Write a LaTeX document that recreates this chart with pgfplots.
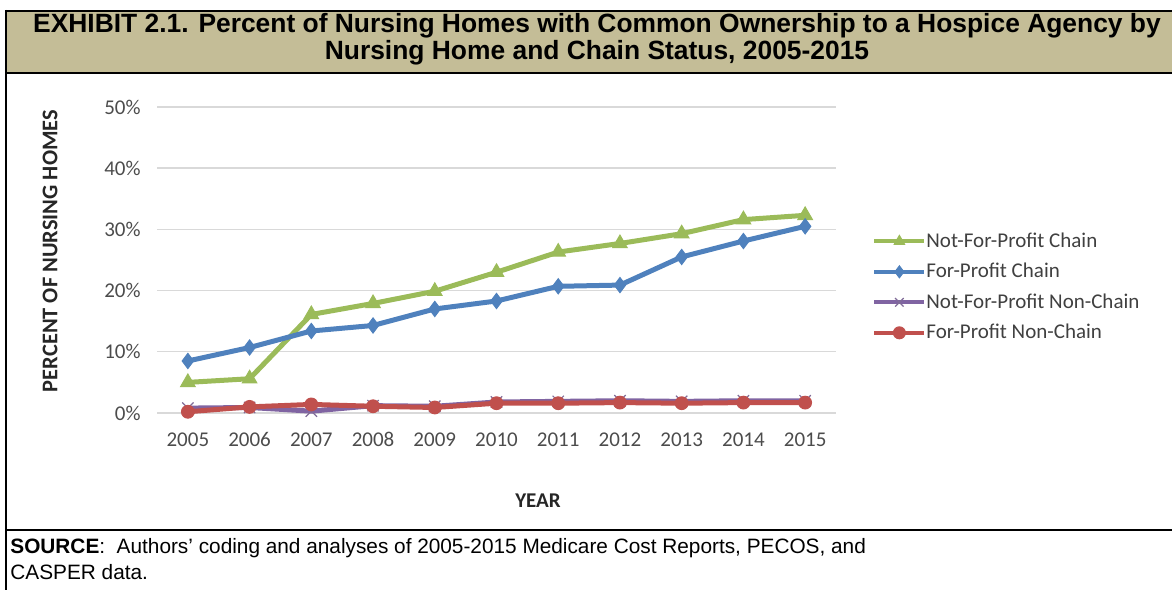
\documentclass[border=0pt]{standalone}
\usepackage{fontspec}
\setmainfont{Liberation Sans}
\newfontfamily\carlito{Carlito}
\usepackage{pgfplots}
\pgfplotsset{compat=1.18}
\definecolor{cgreen}{HTML}{9BBB59}
\definecolor{cblue}{HTML}{4F81BD}
\definecolor{cpurple}{HTML}{8064A2}
\definecolor{cred}{HTML}{C0504D}
\definecolor{ctan}{HTML}{C4BD97}
\definecolor{cgrid}{HTML}{D9D9D9}
\begin{document}
\begin{tikzpicture}
\useasboundingbox (0,0) rectangle (586pt,294.5pt);
% title band
\fill[ctan] (3pt,258pt) rectangle (600pt,289pt);
\draw[line width=1.3pt] (3pt,289pt) -- (600pt,289pt);
\draw[line width=1.3pt] (3pt,258pt) -- (600pt,258pt);
\draw[line width=1.3pt] (3pt,289.6pt) -- (3pt,-2pt);
\draw[line width=1.3pt] (3pt,29.5pt) -- (600pt,29.5pt);
\node[font=\bfseries\fontsize{13.2}{14}\selectfont, anchor=base] at (298.5pt,278.3pt) {EXHIBIT 2.1. Percent of Nursing Homes with Common Ownership to a Hospice Agency by};
\node[font=\bfseries\fontsize{13.2}{14}\selectfont, anchor=base] at (298.5pt,264.8pt) {Nursing Home and Chain Status, 2005-2015};
% source
\node[font=\fontsize{10.4}{12}\selectfont, anchor=base west, inner sep=0pt] at (5pt,17.8pt) {\textbf{SOURCE}:\ \ Authors' coding and analyses of 2005-2015 Medicare Cost Reports, PECOS, and};
\node[font=\fontsize{10.4}{12}\selectfont, anchor=base west, inner sep=0pt] at (5pt,4.8pt) {CASPER data.};
% axis titles
\node[rotate=90, font=\carlito\bfseries\fontsize{11.2}{12}\selectfont, text=black!85] at (25pt,169pt) {PERCENT OF NURSING HOMES};
\node[font=\carlito\bfseries\fontsize{10.5}{12}\selectfont, text=black!85] at (269pt,44pt) {YEAR};
\begin{axis}[
  at={(78.5pt,88pt)}, anchor=south west,
  scale only axis, width=339.5pt, height=153pt,
  xmin=2004.5, xmax=2015.5, ymin=0, ymax=50,
  xtick={2005,2006,...,2015}, ytick={0,10,...,50},
  axis line style={draw=none},
  major tick length=0pt,
  ymajorgrids, grid style={cgrid, line width=0.7pt},
  /pgf/number format/assume math mode=true,
  x tick label style={/pgf/number format/1000 sep={}, anchor=center, inner sep=0pt, text height=6.8pt, text depth=0pt, yshift=-13.5pt},
  y tick label style={anchor=east, inner sep=0pt, xshift=-8pt},
  yticklabel={\pgfmathprintnumber{\tick}\%},
  tick label style={font=\carlito\fontsize{10.5}{12}\selectfont, text=black!70},
  legend style={at={(1.053,0.595)}, anchor=north west, draw=none, fill=none,
    font=\carlito\fontsize{10.5}{12}\selectfont, text=black!75,
    inner sep=0pt, row sep=5.25pt,
    nodes={inner sep=0pt, text height=8pt, text depth=2pt, anchor=west}},
  legend cell align=left,
  legend image code/.code={\draw[mark repeat=2,mark phase=2,#1,line width=2pt,mark size=3pt] plot coordinates {(0pt,0pt) (12.5pt,0pt) (25pt,0pt)};\hspace{27pt}},
  clip=false,
]
\addplot[cgreen, line width=2.5pt, mark=triangle*, mark size=4.2pt, mark options={solid, line width=0.5pt}] coordinates {
(2005,5.0) (2006,5.6) (2007,16.1) (2008,17.9) (2009,19.9) (2010,23.0) (2011,26.3) (2012,27.7) (2013,29.3) (2014,31.6) (2015,32.3)};
\addlegendentry{Not-For-Profit Chain}
\addplot[cblue, line width=2.5pt, mark=diamond*, mark size=3.8pt, mark options={solid, line width=0.5pt}] coordinates {
(2005,8.5) (2006,10.7) (2007,13.4) (2008,14.3) (2009,17.0) (2010,18.3) (2011,20.7) (2012,20.9) (2013,25.5) (2014,28.1) (2015,30.5)};
\addlegendentry{For-Profit Chain}
\addplot[cpurple, line width=2.5pt, mark=x, mark size=4pt, mark options={solid, line width=0.6pt, draw=cpurple!70!gray}] coordinates {
(2005,0.8) (2006,0.9) (2007,0.3) (2008,1.2) (2009,1.1) (2010,1.8) (2011,1.9) (2012,2.0) (2013,1.9) (2014,2.0) (2015,2.0)};
\addlegendentry{Not-For-Profit Non-Chain}
\addplot[cred, line width=2.5pt, mark=*, mark size=3.2pt, mark options={solid, line width=0.5pt}] coordinates {
(2005,0.2) (2006,1.0) (2007,1.4) (2008,1.1) (2009,0.9) (2010,1.6) (2011,1.6) (2012,1.7) (2013,1.6) (2014,1.7) (2015,1.7)};
\addlegendentry{For-Profit Non-Chain}
\end{axis}
\end{tikzpicture}
\end{document}
